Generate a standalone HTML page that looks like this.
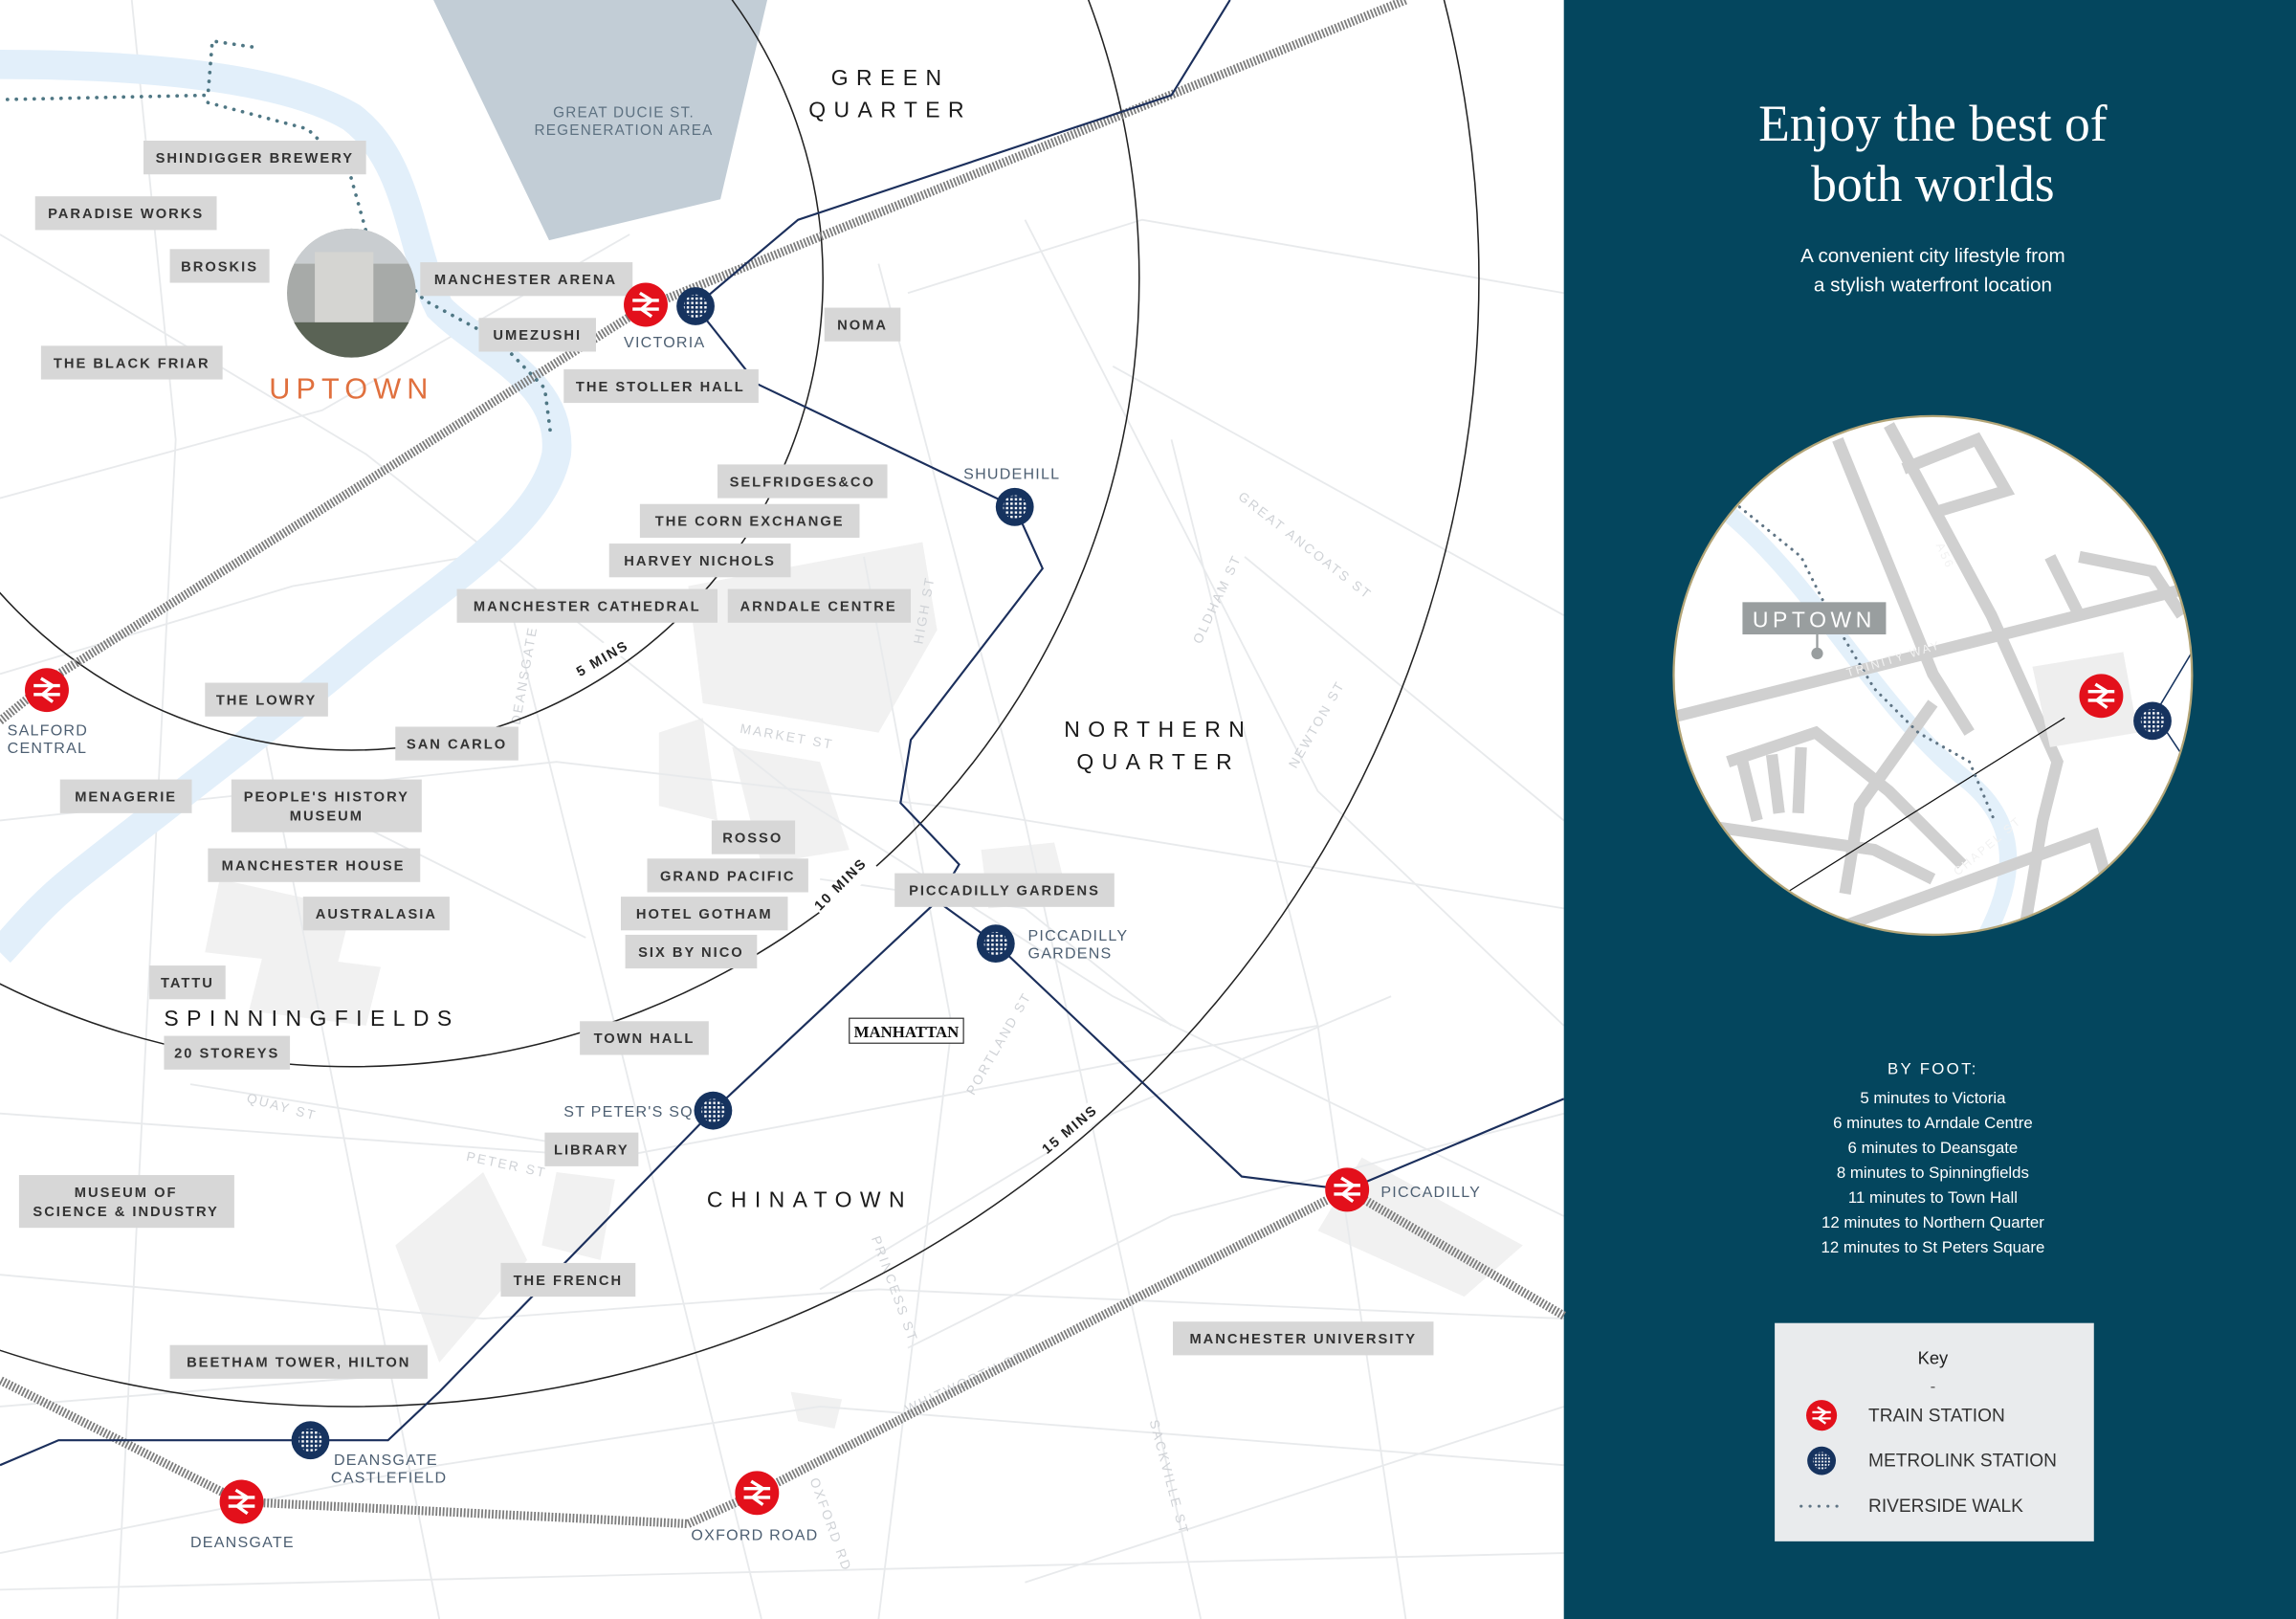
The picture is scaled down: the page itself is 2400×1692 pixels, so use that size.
<!DOCTYPE html>
<html><head><meta charset="utf-8"><style>
html,body{margin:0;padding:0;width:2400px;height:1692px;overflow:hidden;background:#fff}
svg{display:block}
.lb{font-family:"Liberation Sans",sans-serif;font-size:9.6px;font-weight:bold;letter-spacing:1.3px;fill:#333}
.st{font-family:"Liberation Sans",sans-serif;font-size:10.5px;letter-spacing:0.8px;fill:#4d5f72}
.dist{font-family:"Liberation Sans",sans-serif;font-size:15px;letter-spacing:5.5px;fill:#1a1a1a}
.sn{font-family:"Liberation Sans",sans-serif;font-size:9px;letter-spacing:1.5px;fill:#cfd2d6}
.mins{font-family:"Liberation Sans",sans-serif;font-size:9.5px;font-weight:bold;letter-spacing:1.3px;fill:#222}
.w{font-family:"Liberation Sans",sans-serif;fill:#fff}
</style></head><body>
<svg width="2400" height="1692" viewBox="0 0 1568 1105" preserveAspectRatio="none" xmlns="http://www.w3.org/2000/svg">
<defs>
<g id="tr"><circle r="15" fill="#e3101b"/><path d="M-9,-3 H9 M-9,3 H9 M-4,-8 L4,-3 L-3,3 L4,8" stroke="#fff" stroke-width="2.2" fill="none"/></g>
<pattern id="chk" width="3" height="3" patternUnits="userSpaceOnUse"><rect width="1.6" height="1.6" fill="#fff"/></pattern>
<g id="mt"><circle r="13" fill="#16335f"/><circle r="8" fill="url(#chk)"/></g>
<clipPath id="ic"><circle cx="1320" cy="461" r="177"/></clipPath>
<clipPath id="up"><circle cx="240" cy="200" r="44"/></clipPath>
</defs>
<rect width="1068" height="1105" fill="#fff"/>
<g fill="#f1f1f1">
<polygon points="470,400 630,370 640,430 600,500 480,480"/>
<polygon points="450,500 480,490 490,560 450,550"/>
<polygon points="500,510 560,520 580,580 520,590"/>
<polygon points="270,850 330,800 360,860 300,930"/>
<polygon points="930,790 1040,850 1000,885 900,840"/>
<polygon points="150,600 240,620 230,660 140,650"/>
<polygon points="180,650 260,660 250,700 170,690"/>
<polygon points="380,800 420,805 410,860 370,850"/>
<polygon points="540,950 575,955 570,975 545,970"/>
<polygon points="670,580 720,575 730,615 675,620"/>
</g>
<g stroke="#e8eaec" stroke-width="1.2" fill="none">
<path d="M0,160 L250,310 L540,540 L760,680 L1068,830"/>
<path d="M0,340 L220,280 L430,160"/>
<path d="M0,560 L380,520 L640,550 L1068,620"/>
<path d="M0,760 L420,790 L900,700"/>
<path d="M0,870 L330,900 L600,880 L1068,900"/>
<path d="M0,1060 L300,1000 L560,960 L1068,1000"/>
<path d="M90,0 L120,300 L80,1105"/>
<path d="M180,500 L300,1105"/>
<path d="M350,420 L420,700 L520,1105"/>
<path d="M590,380 L650,700 L600,1105"/>
<path d="M600,180 L700,560 L820,1105"/>
<path d="M700,150 L900,540 L1068,700"/>
<path d="M760,250 L1068,420"/>
<path d="M800,300 L900,700 L960,1105"/>
<path d="M850,380 L1068,560"/>
<path d="M560,880 L760,760 L950,680"/>
<path d="M620,920 L800,830 L1068,760"/>
<path d="M700,1080 L1068,960"/>
<path d="M0,460 L200,400 L320,380"/>
<path d="M0,960 L250,940"/>
<path d="M130,740 L380,780"/>
<path d="M240,560 L400,640"/>
<path d="M620,200 L780,150 L1068,200"/>
<path d="M0,1085 L1068,1060"/>
<path d="M560,600 L700,620 L800,700"/>
</g>
<path d="M0,44 C80,44 190,50 240,80 C280,110 280,170 300,210 C330,240 385,260 380,310 C370,360 300,400 240,450 C180,500 100,560 50,600 C25,620 10,640 0,650" stroke="#e2effa" stroke-width="20" fill="none"/>
<polygon points="296,0 524,0 492,136 375,164" fill="#c2cdd6"/>
<text x="426" y="80" text-anchor="middle" class="st" style="font-size:10px;fill:#5d7181">GREAT DUCIE ST.</text>
<text x="426" y="92" text-anchor="middle" class="st" style="font-size:10px;fill:#5d7181">REGENERATION AREA</text>
<text class="sn" transform="translate(845,340) rotate(38)">GREAT ANCOATS ST</text>
<text class="sn" transform="translate(820,440) rotate(-65)">OLDHAM ST</text>
<text class="sn" transform="translate(885,525) rotate(-60)">NEWTON ST</text>
<text class="sn" transform="translate(630,440) rotate(-80)">HIGH ST</text>
<text class="sn" transform="translate(505,500) rotate(10)">MARKET ST</text>
<text class="sn" transform="translate(355,495) rotate(-80)">DEANSGATE</text>
<text class="sn" transform="translate(168,752) rotate(15)">QUAY ST</text>
<text class="sn" transform="translate(318,792) rotate(12)">PETER ST</text>
<text class="sn" transform="translate(665,748) rotate(-60)">PORTLAND ST</text>
<text class="sn" transform="translate(595,845) rotate(70)">PRINCESS ST</text>
<text class="sn" transform="translate(620,965) rotate(-25)">WHITWORTH ST</text>
<text class="sn" transform="translate(553,1010) rotate(70)">OXFORD RD</text>
<text class="sn" transform="translate(785,970) rotate(75)">SACKVILLE ST</text>
<g stroke="#222" stroke-width="1" fill="none">
<circle cx="240" cy="190" r="322"/>
<circle cx="240" cy="190" r="538"/>
<circle cx="240" cy="190" r="770"/>
</g>
<rect x="1068" y="0" width="500" height="1105" fill="#04465e"/>
<g fill="#fff">
<rect x="390" y="440" width="46" height="14" transform="rotate(-30 412 448)"/>
<rect x="552" y="598" width="50" height="14" transform="rotate(-45 577 605)"/>
<rect x="708" y="763" width="50" height="14" transform="rotate(-40 733 770)"/>
</g>
<text class="mins" transform="translate(396,462) rotate(-30)">5 MINS</text>
<text class="mins" transform="translate(560,622) rotate(-45)">10 MINS</text>
<text class="mins" transform="translate(715,788) rotate(-40)">15 MINS</text>
<g stroke="#7d7d7d" stroke-width="6" stroke-dasharray="1.2,1.2" fill="none">
<path d="M0,492 L40,460 L200,360 L440,210 L960,0"/>
<path d="M1068,898 L920,812 L517,1019 L470,1040 L165,1025 L0,942"/>
</g>
<g stroke="#1b2f5c" stroke-width="1.4" fill="none">
<path d="M0,1000 L40,983 L265,983 L300,950 L487,758 L640,615 L655,590 L615,548 L622,505 L712,388 L693,346 L517,262 L475,209 L545,150 L800,65 L840,0"/>
<path d="M640,615 L680,644 L848,803 L920,812 L1068,750"/>
</g>
<g stroke="#4f7784" stroke-width="2.4" stroke-dasharray="0.1,6" stroke-linecap="round" fill="none">
<path d="M172,32 L145,28 L142,65 L0,68"/>
<path d="M142,70 L210,88 L238,115 L252,165 L290,205 L340,232 L372,265 L376,296"/>
</g>
<g clip-path="url(#up)">
<rect x="190" y="150" width="100" height="100" fill="#a7aaa8"/>
<rect x="190" y="150" width="100" height="30" fill="#c9cdd0"/>
<rect x="215" y="172" width="40" height="50" fill="#d5d5d2"/>
<rect x="190" y="220" width="100" height="30" fill="#5a6355"/>
</g>
<text x="240" y="272" text-anchor="middle" style="font-family:'Liberation Sans',sans-serif;font-size:20px;letter-spacing:4px;fill:#e0703e">UPTOWN</text>
<g fill="#d7d7d7">
<rect x="98" y="96" width="152" height="23"/><rect x="24" y="134" width="124" height="23"/><rect x="116" y="170" width="68" height="23"/><rect x="28" y="236" width="124" height="23"/><rect x="287" y="179" width="145" height="23"/><rect x="327" y="217" width="80" height="23"/><rect x="385" y="252" width="133" height="23"/><rect x="563" y="210" width="52" height="23"/><rect x="490" y="317" width="116" height="23"/><rect x="437" y="344" width="150" height="23"/><rect x="416" y="371" width="124" height="23"/><rect x="312" y="402" width="178" height="23"/><rect x="497" y="402" width="125" height="23"/><rect x="140" y="466" width="84" height="23"/><rect x="270" y="496" width="84" height="23"/><rect x="41" y="532" width="90" height="23"/><rect x="158" y="532" width="130" height="36"/><rect x="142" y="579" width="145" height="23"/><rect x="207" y="612" width="100" height="23"/><rect x="486" y="560" width="57" height="23"/><rect x="442" y="586" width="110" height="23"/><rect x="424" y="612" width="114" height="23"/><rect x="427" y="638" width="90" height="23"/><rect x="611" y="596" width="150" height="23"/><rect x="102" y="659" width="52" height="23"/><rect x="112" y="707" width="86" height="23"/><rect x="396" y="697" width="88" height="23"/><rect x="372" y="773" width="64" height="23"/><rect x="13" y="802" width="147" height="36"/><rect x="342" y="862" width="92" height="23"/><rect x="116" y="918" width="176" height="23"/><rect x="801" y="902" width="178" height="23"/>
</g>
<g class="lb" text-anchor="middle">
<text x="174" y="111">SHINDIGGER BREWERY</text><text x="86" y="149">PARADISE WORKS</text><text x="150" y="185">BROSKIS</text><text x="90" y="251">THE BLACK FRIAR</text><text x="359" y="194">MANCHESTER ARENA</text><text x="367" y="232">UMEZUSHI</text><text x="451" y="267">THE STOLLER HALL</text><text x="589" y="225">NOMA</text><text x="548" y="332">SELFRIDGES&amp;CO</text><text x="512" y="359">THE CORN EXCHANGE</text><text x="478" y="386">HARVEY NICHOLS</text><text x="401" y="417">MANCHESTER CATHEDRAL</text><text x="559" y="417">ARNDALE CENTRE</text><text x="182" y="481">THE LOWRY</text><text x="312" y="511">SAN CARLO</text><text x="86" y="547">MENAGERIE</text><text x="223" y="547">PEOPLE'S HISTORY</text><text x="223" y="560">MUSEUM</text><text x="214" y="594">MANCHESTER HOUSE</text><text x="257" y="627">AUSTRALASIA</text><text x="514" y="575">ROSSO</text><text x="497" y="601">GRAND PACIFIC</text><text x="481" y="627">HOTEL GOTHAM</text><text x="472" y="653">SIX BY NICO</text><text x="686" y="611">PICCADILLY GARDENS</text><text x="128" y="674">TATTU</text><text x="155" y="722">20 STOREYS</text><text x="440" y="712">TOWN HALL</text><text x="404" y="788">LIBRARY</text><text x="86" y="817">MUSEUM OF</text><text x="86" y="830">SCIENCE &amp; INDUSTRY</text><text x="388" y="877">THE FRENCH</text><text x="204" y="933">BEETHAM TOWER, HILTON</text><text x="890" y="917">MANCHESTER UNIVERSITY</text>
</g>
<rect x="580" y="695" width="78" height="17" fill="#fff" stroke="#333" stroke-width="0.8"/>
<text x="619" y="708" text-anchor="middle" style="font-family:'Liberation Serif',serif;font-size:11px;font-weight:bold;fill:#111">MANHATTAN</text>
<g class="dist" text-anchor="middle">
<text x="608" y="58">GREEN</text><text x="608" y="80">QUARTER</text>
<text x="791" y="503">NORTHERN</text><text x="791" y="525">QUARTER</text>
<text x="213" y="700">SPINNINGFIELDS</text>
<text x="553" y="824">CHINATOWN</text>
</g>
<use href="#tr" x="441" y="208"/><use href="#mt" x="475" y="209"/>
<use href="#tr" x="32" y="471"/><use href="#tr" x="920" y="812"/><use href="#tr" x="165" y="1025"/><use href="#tr" x="517" y="1019"/>
<use href="#mt" x="693" y="346"/><use href="#mt" x="680" y="644"/><use href="#mt" x="487" y="758"/><use href="#mt" x="212" y="983"/>
<g class="st">
<text x="426" y="237">VICTORIA</text><text x="658" y="327">SHUDEHILL</text>
<text x="5" y="502">SALFORD</text><text x="5" y="514">CENTRAL</text>
<text x="702" y="642">PICCADILLY</text><text x="702" y="654">GARDENS</text>
<text x="385" y="762">ST PETER'S SQ</text>
<text x="228" y="1000">DEANSGATE</text><text x="226" y="1012">CASTLEFIELD</text>
<text x="130" y="1056">DEANSGATE</text><text x="472" y="1051">OXFORD ROAD</text><text x="943" y="817">PICCADILLY</text>
</g>
<text x="1320" y="96" text-anchor="middle" style="font-family:'Liberation Serif',serif;font-size:35px;fill:#fff">Enjoy the best of</text>
<text x="1320" y="137" text-anchor="middle" style="font-family:'Liberation Serif',serif;font-size:35px;fill:#fff">both worlds</text>
<text x="1320" y="179" text-anchor="middle" class="w" style="font-size:13.5px">A convenient city lifestyle from</text>
<text x="1320" y="199" text-anchor="middle" class="w" style="font-size:13.5px">a stylish waterfront location</text>
<g clip-path="url(#ic)">
<circle cx="1320" cy="461" r="177" fill="#fff"/>
<path d="M1180,350 C1240,400 1280,480 1340,530 C1380,560 1380,600 1350,650" stroke="#e3f0fa" stroke-width="12" fill="none"/>
<g stroke="#d0d0d0" stroke-width="8" fill="none">
<path d="M1140,490 L1500,400"/>
<path d="M1290,290 L1360,420 L1405,520 L1395,560 L1380,650"/>
<path d="M1255,300 L1320,460 L1345,500"/>
<path d="M1300,320 L1350,300 L1370,335 L1320,350"/>
<path d="M1420,380 L1470,390 L1490,420"/>
<path d="M1180,520 L1240,500 L1290,540 L1340,590"/>
<path d="M1140,560 L1280,580 L1320,600"/>
<path d="M1190,520 L1200,560 M1210,515 L1215,555 M1230,510 L1228,555"/>
<path d="M1260,610 L1270,550 L1320,480"/>
<path d="M1210,650 L1430,570 L1450,640"/>
<path d="M1400,380 L1420,420"/>
</g>
<polygon points="1388,455 1450,445 1460,500 1400,510" fill="#eeeeee"/>
<path d="M1222,608 L1410,490" stroke="#111" stroke-width="0.8"/>
<path d="M1470,490 L1500,440 M1480,500 L1500,530" stroke="#16335f" stroke-width="1"/>
<path d="M1188,346 L1230,380 L1250,420 L1280,470 L1310,500 L1345,520 L1362,560" stroke="#5f7484" stroke-width="2" stroke-dasharray="0.1,5" stroke-linecap="round" fill="none"/>
<g class="sn" style="fill:#f2f2f2;font-size:8px"><text transform="translate(1262,462) rotate(-17)">TRINITY WAY</text><text transform="translate(1337,598) rotate(-40)">CHAPEL ST</text><text transform="translate(1322,372) rotate(65)">A56</text></g>
<rect x="1190" y="411" width="98" height="22" fill="#999e9f"/>
<text x="1239" y="428" text-anchor="middle" class="w" style="font-size:15px;letter-spacing:3px">UPTOWN</text>
<path d="M1241,433 V445" stroke="#999e9f" stroke-width="1.5"/><circle cx="1241" cy="446" r="4" fill="#999e9f"/>
<use href="#tr" x="1435" y="475"/><use href="#mt" x="1470" y="492"/>
</g>
<circle cx="1320" cy="461" r="177" fill="none" stroke="#b3a577" stroke-width="1.5"/>
<text x="1320" y="733" text-anchor="middle" class="w" style="font-size:11px;letter-spacing:1.5px">BY FOOT:</text>
<g class="w" text-anchor="middle" style="font-size:11px">
<text x="1320" y="753">5 minutes to Victoria</text><text x="1320" y="770">6 minutes to Arndale Centre</text><text x="1320" y="787">6 minutes to Deansgate</text><text x="1320" y="804">8 minutes to Spinningfields</text><text x="1320" y="821">11 minutes to Town Hall</text><text x="1320" y="838">12 minutes to Northern Quarter</text><text x="1320" y="855">12 minutes to St Peters Square</text>
</g>
<rect x="1212" y="903" width="218" height="149" fill="#e9ebed"/>
<text x="1320" y="931" text-anchor="middle" style="font-family:'Liberation Sans',sans-serif;font-size:12px;fill:#222">Key</text>
<text x="1320" y="950" text-anchor="middle" style="font-family:'Liberation Sans',sans-serif;font-size:11px;fill:#555">-</text>
<g transform="translate(1244,966) scale(0.7)"><use href="#tr"/></g>
<g transform="translate(1244,997) scale(0.75)"><use href="#mt"/></g>
<path d="M1230,1028 H1258" stroke="#5f7484" stroke-width="2" stroke-dasharray="0.1,6" stroke-linecap="round"/>
<g style="font-family:'Liberation Sans',sans-serif;font-size:12.5px;fill:#333">
<text x="1276" y="970">TRAIN STATION</text><text x="1276" y="1001">METROLINK STATION</text><text x="1276" y="1032">RIVERSIDE WALK</text>
</g>
</svg>
</body></html>
